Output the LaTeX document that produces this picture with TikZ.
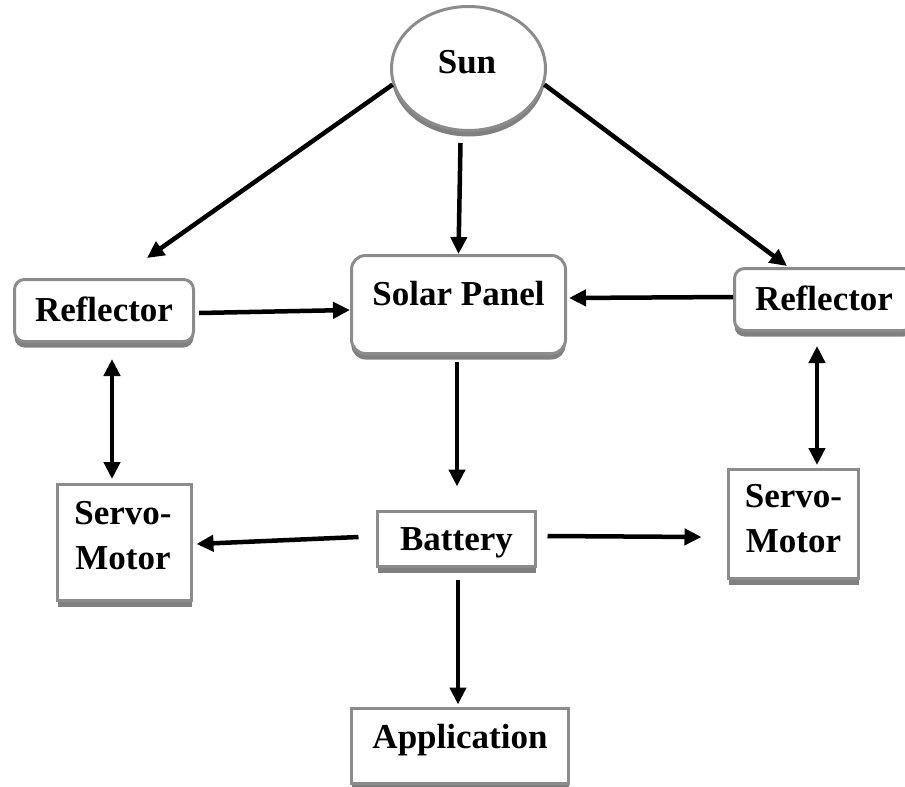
\documentclass[tikz,border=0pt]{standalone}
\usepackage{fontspec}
\setmainfont{Liberation Serif}
\usetikzlibrary{arrows.meta,shapes.geometric,shadows,calc}
\definecolor{bordergray}{RGB}{140,140,140}
\definecolor{shadowgray}{RGB}{128,128,128}
\begin{document}
\begin{tikzpicture}[x=1pt,y=-1pt,
  every node/.style={font=\fontsize{35}{45}\selectfont\bfseries, align=center, text=black},
  shade/.style={drop shadow={shadow xshift=0pt, shadow yshift=-6pt, fill=shadowgray, opacity=1}},
  boxbase/.style={draw=bordergray, line width=3pt, fill=white, shade, inner sep=0pt,
     text height=30.6pt, text depth=8.2pt},
  rbox/.style={boxbase, rectangle, rounded corners=10pt},
  sbox/.style={boxbase, rectangle},
  sunshape/.style={draw=bordergray, line width=3pt, fill=white, shade, ellipse, inner sep=0pt},
  tip/.tip={Triangle[length=17pt,width=16pt]},
  arr/.style={line width=4.5pt, -tip},
  darr/.style={line width=4.5pt, tip-tip}
]
\useasboundingbox (0,0) rectangle (905,787);

\node[sunshape, minimum width=154pt, minimum height=124pt] (sun) at (468.5,68.5) {};
\node at (467,62) (suntext) {Sun};

\node[rbox, minimum width=179pt, minimum height=62pt] (lrefl) at (104,310.5) {Reflector};
\node[rbox, rounded corners=14pt, minimum width=214pt, minimum height=98pt,
      text height=27pt, text depth=26pt] (panel) at (458.5,304.5) {Solar Panel};
\node[rbox, minimum width=179pt, minimum height=62pt] (rrefl) at (824,299.5) {Reflector};

\node[sbox, minimum width=134pt, minimum height=116pt, text height=0pt, text depth=0pt] (lservo) at (124.5,542.5) {};
\node at (123,535.5) (lservotext) {Servo-\\Motor};
\node[sbox, minimum width=158pt, minimum height=55pt] (battery) at (456.5,539) {Battery};
\node[sbox, minimum width=130pt, minimum height=109pt, text height=0pt, text depth=0pt] (rservo) at (793.5,524) {};
\node at (793.5,519) (rservotext) {Servo-\\Motor};
\node[sbox, minimum width=217pt, minimum height=75pt, text height=7.2pt, text depth=2.2pt] (app) at (460,746) {Application};

% connectors
\draw[arr] (sun.192) -- ([xshift=43pt,yshift=20pt]lrefl.north);
\draw[arr] ([xshift=-8pt,yshift=-11pt]sun.south) -- (panel.north);
\draw[arr] (sun.-12) -- ([xshift=-37pt,yshift=1pt]rrefl.north);
\draw[arr] ([xshift=4pt,yshift=-2.5pt]lrefl.east) -- ([yshift=-5.5pt]panel.west);
\draw[arr] ([yshift=2.5pt]rrefl.west) -- ([xshift=2pt,yshift=6.5pt]panel.east);
\draw[darr] ([xshift=8pt,yshift=-16pt]lrefl.south) -- ([xshift=-12.5pt,yshift=4pt]lservo.north);
\draw[darr] ([xshift=-7pt,yshift=-14pt]rrefl.south) -- ([xshift=23.5pt,yshift=3pt]rservo.north);
\draw[arr] ([xshift=-1.5pt,yshift=-6.5pt]panel.south) -- ([xshift=0.5pt,yshift=23.5pt]battery.north);
\draw[arr] ([xshift=-17.5pt,yshift=2pt]battery.west) -- ([xshift=3.5pt,yshift=-1.5pt]lservo.east);
\draw[arr] ([xshift=10.5pt,yshift=3pt]battery.east) -- ([xshift=-25.5pt,yshift=-13pt]rservo.west);
\draw[arr] ([xshift=1.5pt,yshift=-11.5pt]battery.south) -- ([xshift=-2pt,yshift=2.5pt]app.north);
\end{tikzpicture}
\end{document}
